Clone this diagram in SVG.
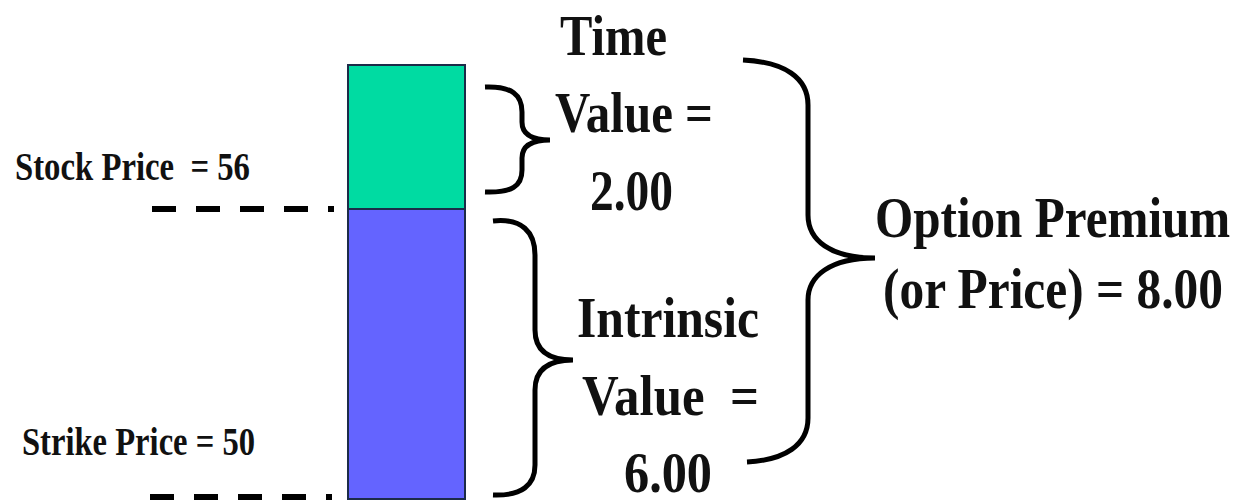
<svg xmlns="http://www.w3.org/2000/svg" width="1260" height="504" viewBox="0 0 1260 504">
<style>
  text { font-family: "Liberation Serif", "Times New Roman", serif; font-weight: bold; fill: #111; white-space: pre; }
  .sm { font-size: 39px; }
  .lg { font-size: 58px; }
  .brace { fill: none; stroke: #000; stroke-width: 5; stroke-linecap: butt; stroke-linejoin: miter; }
  .dash { stroke: #000; stroke-width: 6; stroke-dasharray: 24 20; }
  .bar { stroke: #1c2b48; stroke-width: 2; }
</style>
<rect width="1260" height="504" fill="#fff"/>
<g id="time-value-bar">
  <rect class="bar" x="348" y="65" width="117" height="144" fill="#00DBA2"/>
</g>
<g id="intrinsic-value-bar">
  <rect class="bar" x="348" y="209" width="117" height="290" fill="#6464FF"/>
</g>
<g id="stock-price">
  <text class="sm" x="15" y="180" textLength="235" lengthAdjust="spacingAndGlyphs">Stock Price  = 56</text>
  <line class="dash" x1="152" y1="209" x2="334" y2="209"/>
</g>
<g id="strike-price">
  <text class="sm" x="22" y="455" textLength="233" lengthAdjust="spacingAndGlyphs">Strike Price = 50</text>
  <line class="dash" x1="150" y1="497" x2="332" y2="497"/>
</g>
<g id="time-value">
  <text class="lg" x="560" y="55" textLength="107" lengthAdjust="spacingAndGlyphs">Time</text>
  <text class="lg" x="555" y="132" textLength="158" lengthAdjust="spacingAndGlyphs">Value =</text>
  <text class="lg" x="590" y="210" textLength="83" lengthAdjust="spacingAndGlyphs">2.00</text>
</g>
<g id="intrinsic-value">
  <text class="lg" x="577" y="337" textLength="182" lengthAdjust="spacingAndGlyphs">Intrinsic</text>
  <text class="lg" x="582" y="415" textLength="177" lengthAdjust="spacingAndGlyphs">Value  =</text>
  <text class="lg" x="624" y="492" textLength="88" lengthAdjust="spacingAndGlyphs">6.00</text>
</g>
<g id="option-premium">
  <text class="lg" transform="translate(875,237) scale(0.85,1)" x="0" y="0" textLength="418" lengthAdjust="spacingAndGlyphs">Option Premium</text>
  <text class="lg" transform="translate(883,308) scale(0.85,1)" x="0" y="0" textLength="400" lengthAdjust="spacingAndGlyphs">(or Price) = 8.00</text>
</g>
<g id="connectors">
  <path class="brace" d="M485,87 C512,86 522,95 522,112 V122 C522,133 530,140 550,140 C530,140 522,147 522,158 V170 C522,186 512,193 485,192"/>
  <path class="brace" d="M493,221 C522,218 535,232 535,255 V330 C535,348 545,360 573,360 C545,360 535,372 535,390 V465 C535,485 522,496 493,495"/>
  <path class="brace" d="M743,60 C785,62 808,78 808,105 V215 C808,240 830,258 875,258 C830,258 808,276 808,300 V418 C808,445 785,460 747,462"/>
</g>
</svg>
